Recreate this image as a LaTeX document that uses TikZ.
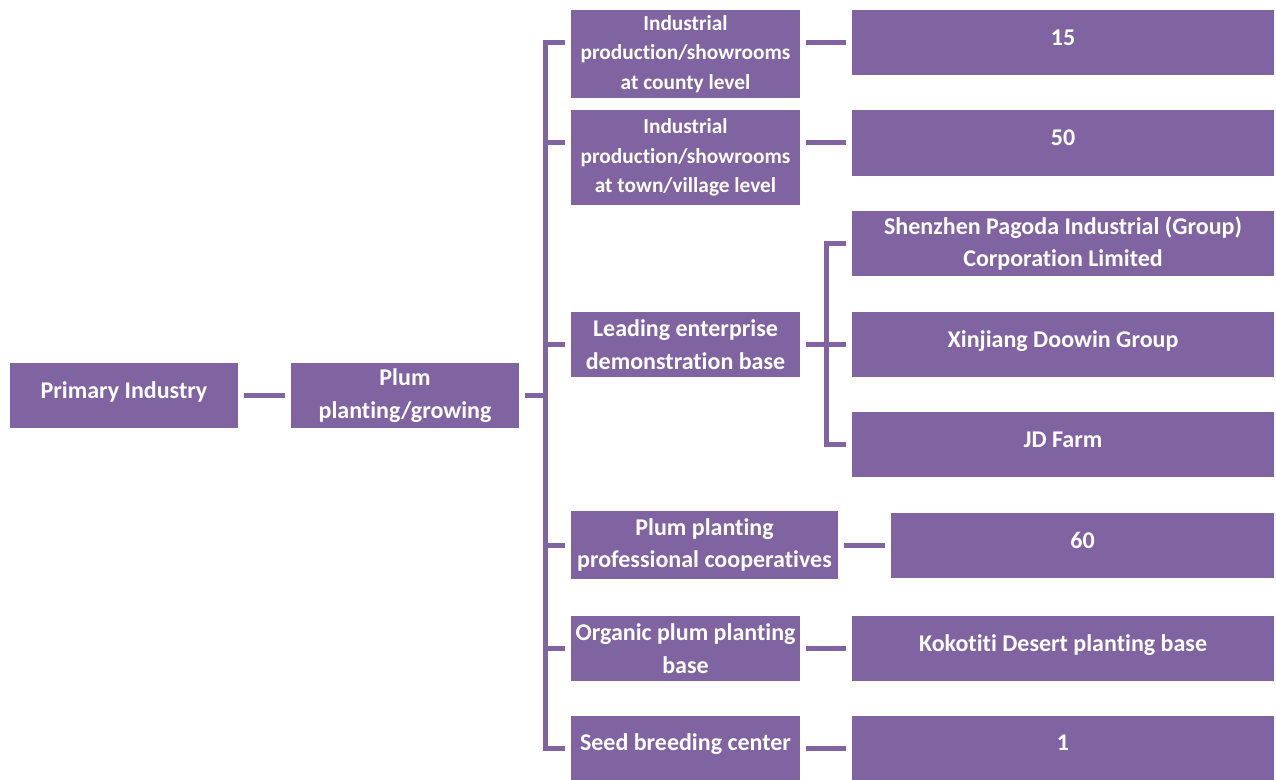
\documentclass[tikz,border=0pt]{standalone}
\usepackage{fontspec}
\setmainfont[Ligatures={NoCommon,NoContextual}]{Carlito}
\usepackage{tikz}
\definecolor{plum}{HTML}{8064A2}

\begin{document}
\begin{tikzpicture}[
    x=0.75pt, y=-0.75pt,
    box/.style={rectangle, fill=plum, text=white, align=center, inner sep=1pt, minimum width=171.75pt, minimum height=48.75pt, font=\bfseries\fontsize{18}{24.5}\selectfont},
    small/.style={font=\bfseries\fontsize{16}{22}\selectfont},
    wide/.style={box, minimum width=316.5pt},
    one/.style={text height=13pt, text depth=9pt},
    link/.style={line width=3.75pt, draw=plum},
    gap/.style={link, shorten <=4.5pt, shorten >=4.5pt}
]
    \useasboundingbox (0,0) rectangle (1276,780);

    % Left side
    \node[box, one, minimum width=171pt] (primary) at (124,395.5) {Primary Industry};
    \node[box, minimum width=171pt] (plum) at (405,395.5) {Plum\\planting/growing};

    % Second level
    \node[box, small, minimum height=66pt] (county) at (685.5,54) {Industrial\\production/showrooms\\at county level};
    \node[box, small, minimum height=71.25pt] (town) at (685.5,157.5) {Industrial\\production/showrooms\\at town/village level};
    \node[box] (leading) at (685.5,344.5) {Leading enterprise\\demonstration base};
    \node[box, minimum width=200.25pt, minimum height=51pt] (coop) at (704.5,545) {Plum planting\\professional cooperatives};
    \node[box] (organic) at (685.5,648.5) {Organic plum planting\\base};
    \node[box, one, minimum height=48pt] (seed) at (685.5,748) {Seed breeding center};

    % Third level
    \node[wide, one] (n15) at (1063,42.5) {15};
    \node[wide, one, minimum height=49.5pt] (n50) at (1063,143) {50};
    \node[wide] (shenzhen) at (1063,243.5) {Shenzhen Pagoda Industrial (Group)\\Corporation Limited};
    \node[wide, one] (xinjiang) at (1063,344.5) {Xinjiang Doowin Group};
    \node[wide, one] (jd) at (1063,444.5) {JD Farm};
    \node[wide, one, minimum width=287.25pt] (n60) at (1082.5,545.5) {60};
    \node[wide, one] (koko) at (1063,648.5) {Kokotiti Desert planting base};
    \node[wide, one, minimum height=48pt] (n1) at (1063,748) {1};

    % Branch points
    \coordinate (trunk) at (545,395.5);
    \coordinate (fork) at (826,344.5);

    % Connectors
    \draw[gap] (primary) -- (plum);
    \draw[link, shorten <=4.5pt] (plum.east) -- (trunk);
    \foreach \child/\leaf in {county/n15, town/n50, leading/xinjiang, coop/n60, organic/koko, seed/n1}
    {
        \draw[link, shorten >=4.5pt] (trunk) |- (\child.west |- \leaf.west);
        \draw[gap] (\child.east |- \leaf.west) -- (\leaf.west);
    }
    \foreach \firm in {shenzhen, jd}
        \draw[link, shorten >=4.5pt] (fork) |- (\firm.west);
\end{tikzpicture}
\end{document}
